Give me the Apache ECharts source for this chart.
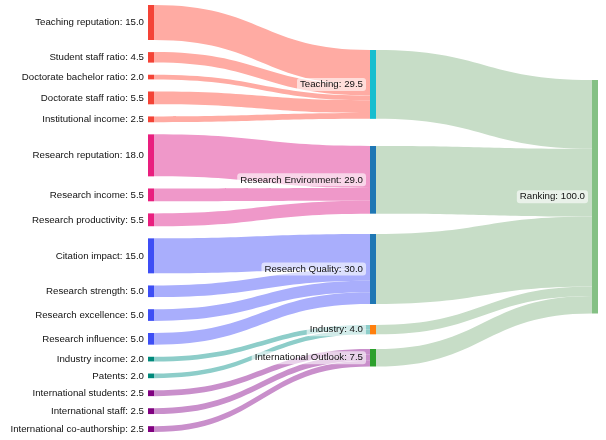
<!DOCTYPE html>
<html>
<head>
<meta charset="utf-8">
<script src="https://cdn.jsdelivr.net/npm/echarts@6/dist/echarts.min.js"></script>
<style>html,body{margin:0;padding:0;background:#fff}#c{width:606px;height:440px}</style>
</head>
<body>
<div id="c"></div>
<script>
// Sub-indicators (left column)
const subNames = ["Teaching reputation","Student staff ratio","Doctorate bachelor ratio","Doctorate staff ratio","Institutional income",
  "Research reputation","Research income","Research productivity",
  "Citation impact","Research strength","Research excellence","Research influence",
  "Industry income","Patents",
  "International students","International staff","International co-authorship"];
const subValues = [15.0,4.5,2.0,5.5,2.5, 18.0,5.5,5.5, 15.0,5.0,5.0,5.0, 2.0,2.0, 2.5,2.5,2.5];
const subPillar = ["Teaching","Teaching","Teaching","Teaching","Teaching",
  "Research Environment","Research Environment","Research Environment",
  "Research Quality","Research Quality","Research Quality","Research Quality",
  "Industry","Industry",
  "International Outlook","International Outlook","International Outlook"];
// Pillars (middle column)
const pillarNames = ["Teaching","Research Environment","Research Quality","Industry","International Outlook"];
const pillarValues = [29.5,29.0,30.0,4.0,7.5];
const rootName = "Ranking";
const rootValue = 100.0;

// styles
const pillarNodeColor = {"Teaching":"#17becf","Research Environment":"#1f77b4","Research Quality":"#1f77b4","Industry":"#ff7f0e","International Outlook":"#2ca02c"};
const subNodeColor = {"Teaching":"#f44336","Research Environment":"#e91e7e","Research Quality":"#3d4ef5","Industry":"#00897b","International Outlook":"#800080"};
const subLinkColor = {"Teaching":"#ffaba3","Research Environment":"#ef98c9","Research Quality":"#a9aefc","Industry":"#8dcdc9","International Outlook":"#c98fcb"};
const rootNodeColor = "#84c084";
const rootLinkColor = "#c7ddc7";
// vertical placement of middle/right nodes (fraction of the layout height), as in the reference layout
const nodeLocalY = {"Teaching":0.1054,"Research Environment":0.3302,"Research Quality":0.5363,"Industry":0.7494,"International Outlook":0.8056,"Ranking":0.1756};

const nodes = [];
const links = [];
subNames.forEach((n,i)=>{
  nodes.push({name:n, depth:0, itemStyle:{color:subNodeColor[subPillar[i]]},
    label:{position:'left'}});
  links.push({source:n, target:subPillar[i], value:subValues[i], lineStyle:{color:subLinkColor[subPillar[i]]}});
});
const valueOf = {};
subNames.forEach((n,i)=>valueOf[n]=subValues[i]);
const boxLabel = {position:'left', backgroundColor:'rgba(255,255,255,0.6)', borderRadius:3, padding:[2,3,1,3]};
pillarNames.forEach((n,i)=>{
  valueOf[n]=pillarValues[i];
  nodes.push({name:n, depth:1, localY:nodeLocalY[n], itemStyle:{color:pillarNodeColor[n]}, label:boxLabel});
  links.push({source:n, target:rootName, value:pillarValues[i], lineStyle:{color:rootLinkColor}});
});
valueOf[rootName]=rootValue;
nodes.push({name:rootName, depth:2, localY:nodeLocalY[rootName], itemStyle:{color:rootNodeColor}, label:boxLabel});

const chart = echarts.init(document.getElementById('c'), null, {renderer:'canvas'});
chart.setOption({
  animation:false,
  series:[{
    type:'sankey',
    left:148, right:8, top:5, bottom:8,
    nodeWidth:6,
    nodeGap:12.1,
    nodeAlign:'justify',
    layoutIterations:0,
    draggable:false,
    emphasis:{disabled:true},
    data:nodes,
    links:links,
    lineStyle:{opacity:1, curveness:0.5},
    itemStyle:{borderWidth:0},
    label:{
      fontFamily:'Helvetica, Arial, "Liberation Sans", sans-serif',
      fontSize:9.7,
      color:'#111',
      distance:4,
      formatter:p=>p.name+': '+valueOf[p.name].toFixed(1)
    }
  }]
});
</script>
</body>
</html>
